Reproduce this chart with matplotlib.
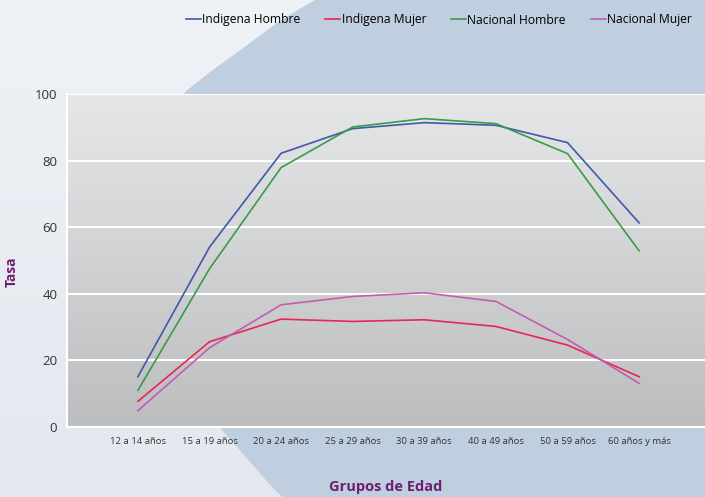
import numpy as np
import matplotlib
matplotlib.use("Agg")
import matplotlib.pyplot as plt
from matplotlib.patches import Polygon

# datos
grupos = ['12 a 14 años', '15 a 19 años', '20 a 24 años', '25 a 29 años',
          '30 a 39 años', '40 a 49 años', '50 a 59 años', '60 años y más']
indigena_hombre = [15.1, 54.0, 82.2, 89.6, 91.4, 90.6, 85.4, 61.3]
indigena_mujer = [7.7, 25.6, 32.4, 31.7, 32.2, 30.2, 24.6, 15.1]
nacional_hombre = [11.0, 47.5, 77.9, 90.1, 92.6, 91.1, 82.1, 52.9]
nacional_mujer = [4.9, 23.8, 36.7, 39.2, 40.3, 37.7, 26.3, 13.1]

series = [('Indigena Hombre', indigena_hombre, '#3f5aa9'),
          ('Indigena Mujer', indigena_mujer, '#e8265a'),
          ('Nacional Hombre', nacional_hombre, '#3b9a4a'),
          ('Nacional Mujer', nacional_mujer, '#c45cb2')]

plt.rcParams['font.family'] = ['Open Sans', 'DejaVu Sans']
morado = '#6e1f6f'

W, H = 705, 497
fig = plt.figure(figsize=(W / 100, H / 100), dpi=100)

# fondo: degradado claro + forma azulada
bg = fig.add_axes([0, 0, 1, 1], zorder=-10)
grad = np.linspace(0, 1, 256).reshape(-1, 1)
c_top = np.array([0xef, 0xf2, 0xf6]) / 255
c_bot = np.array([0xe3, 0xe8, 0xef]) / 255
img = c_top + (c_bot - c_top) * grad[..., None]
bg.imshow(img, extent=[0, W, H, 0], aspect='auto')
forma = [(315, 0), (W, 0), (W, H), (282, H), (270, 485), (245, 456), (220, 428),
         (185, 380), (160, 300), (155, 220), (165, 150), (185, 92), (210, 72),
         (235, 54), (258, 37), (277, 23), (296, 11)]
bg.add_patch(Polygon(forma, closed=True, facecolor='#bfcfdf', edgecolor='none'))
bg.set_xlim(0, W)
bg.set_ylim(H, 0)
bg.axis('off')

ax = fig.add_axes([67 / W, 1 - 427 / H, 1 - 67 / W, (427 - 94) / H])
ax.set_facecolor('none')
# degradado del area de trazado
g2 = np.linspace(0, 1, 256).reshape(-1, 1)
p_top = np.array([0xe6, 0xe7, 0xe8]) / 255
p_bot = np.array([0xbc, 0xbd, 0xbf]) / 255
ax.imshow(p_top + (p_bot - p_top) * g2[..., None], extent=[-0.99, 7.92, 0, 100],
          aspect='auto', zorder=0)

x = np.arange(len(grupos))
for nombre, vals, color in series:
    ax.plot(x, vals, color=color, lw=1.2, label=nombre, zorder=3)

ax.set_xlim(-0.99, 7.92)
ax.set_ylim(0, 100)
ax.set_yticks(range(0, 101, 20))
ax.set_xticks(x)
ax.set_xticklabels(grupos, fontsize=6.8, color='#333333')
ax.tick_params(axis='y', labelsize=9.5, labelcolor='#333333', length=0, pad=7)
ax.tick_params(axis='x', length=0, pad=7)
ax.grid(axis='y', color='white', lw=1.5, zorder=1)
ax.set_axisbelow(False)
for s in ['top', 'right']:
    ax.spines[s].set_visible(False)
for s in ['left', 'bottom']:
    ax.spines[s].set_color('white')
    ax.spines[s].set_linewidth(1.5)

ax.set_xlabel('Grupos de Edad', fontsize=10.5, fontweight='bold', color=morado)
ax.xaxis.set_label_coords(0.5, -0.158)
ax.set_ylabel('Tasa', fontsize=10, fontweight='bold', color=morado)
ax.yaxis.set_label_coords(-0.075, 0.465)

fig.legend(loc='center left', bbox_to_anchor=(186 / W, 1 - 20 / H), ncol=4,
           frameon=False, fontsize=8.7, handlelength=1.25, handletextpad=0.1,
           columnspacing=2.05, borderaxespad=0, borderpad=0)

fig.savefig('out.png', dpi=100)
